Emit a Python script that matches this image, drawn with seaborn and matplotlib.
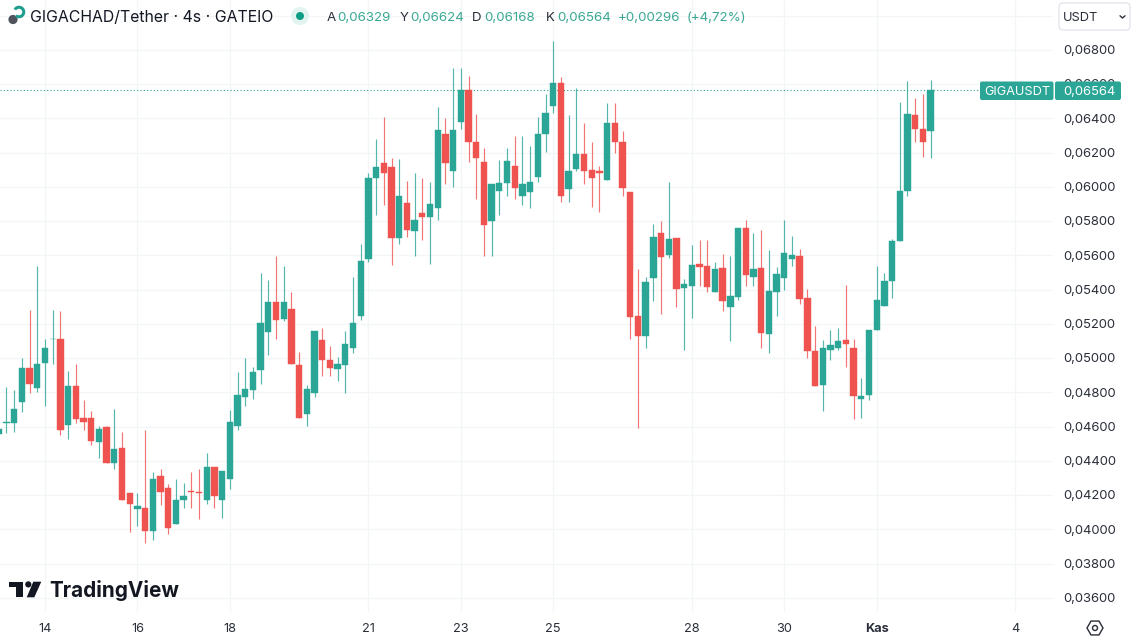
import numpy as np
import pandas as pd
import matplotlib
matplotlib.use('Agg')
import matplotlib.pyplot as plt
from matplotlib.patches import Circle, FancyBboxPatch, Polygon, RegularPolygon, Arc
import seaborn as sns

# 4h candles, prices in ticks of 0.00001 USDT
first_candle = -6
opens = [4558, 4619, 4624, 4745, 4943, 4826, 4972, 5112, 5111, 4609, 4840, 4651, 4653, 4513, 4600, 4387, 4474, 4212, 4122, 4126,
         3991, 4313, 4244, 4034, 4172, 4225, 4219, 4172, 4367, 4172, 4293, 4606, 4776, 4815, 4933, 5155, 5327, 5228, 5288, 4959,
         4676, 4799, 5105, 4990, 4937, 4962, 5060, 5249, 5581, 6051, 6142, 6115, 5701, 5905, 5745, 5846, 5825, 5876, 6310, 6092,
         6378, 6565, 6261, 6144, 5800, 5977, 6022, 6121, 5948, 5971, 6058, 6308, 6475, 6606, 5987, 6105, 6191, 6098, 6093, 6043,
         6376, 6263, 5973, 5245, 5130, 5467, 5733, 5603, 5702, 5412, 5422, 5550, 5537, 5389, 5525, 5299, 5356, 5762, 5476, 5525,
         5143, 5389, 5470, 5580, 5599, 5350, 5041, 4844, 5050, 5058, 5105, 5062, 4760, 4786, 5165, 5303, 5453, 5682, 5975, 6422,
         6337, 6329]
highs = [4610, 4832, 4815, 5000, 5282, 5541, 5111, 5282, 5276, 4924, 4967, 4756, 4692, 4605, 4605, 4702, 4570, 4215, 4212, 4579,
         4338, 4353, 4264, 4293, 4270, 4334, 4355, 4445, 4367, 4340, 4698, 4918, 5000, 4949, 5496, 5457, 5597, 5541, 5387, 5035,
         4846, 5157, 5175, 5073, 5006, 5157, 5473, 5667, 6080, 6279, 6407, 6168, 6162, 6037, 6080, 6053, 6029, 6465, 6401, 6695,
         6693, 6648, 6425, 6226, 6016, 6158, 6230, 6298, 6298, 6241, 6407, 6545, 6853, 6644, 6420, 6580, 6376, 6261, 6123, 6491,
         6491, 6327, 5973, 5521, 5476, 5782, 5803, 6031, 5702, 5461, 5661, 5692, 5689, 5560, 5609, 5597, 5759, 5807, 5731, 5749,
         5634, 5533, 5807, 5712, 5636, 5406, 5187, 5107, 5167, 5175, 5428, 5111, 4883, 5167, 5541, 5496, 5696, 6495, 6621, 6521,
         6543, 6624]
lows = [4546, 4564, 4570, 4685, 4799, 4805, 4721, 4968, 4552, 4527, 4624, 4583, 4494, 4419, 4387, 4352, 4172, 3986, 4021, 3923,
        3939, 4145, 3976, 4034, 4126, 4127, 4063, 4151, 4127, 4066, 4235, 4583, 4721, 4762, 4850, 5019, 5114, 5219, 4965, 4651,
        4606, 4776, 4896, 4896, 4867, 4799, 5031, 5223, 5562, 5835, 5893, 5543, 5667, 5710, 5597, 5691, 5552, 5809, 6018, 6000,
        6339, 6144, 5928, 5597, 5597, 5839, 5949, 5928, 5897, 5879, 6029, 6203, 6430, 5914, 5914, 6095, 6018, 5882, 5856, 6043,
        6200, 5949, 5114, 4595, 5060, 5333, 5257, 5584, 5299, 5050, 5237, 5422, 5389, 5389, 5278, 5099, 5342, 5424, 5422, 5062,
        5031, 5247, 5400, 5541, 5319, 5000, 4840, 4692, 4992, 5047, 4951, 4645, 4653, 4758, 5165, 5303, 5354, 5682, 5948, 6263,
        6173, 6168]
closes = [4587, 4625, 4704, 4941, 4850, 4965, 5060, 5115, 4581, 4840, 4645, 4628, 4517, 4585, 4387, 4472, 4172, 4147, 4139, 3991,
          4293, 4219, 4009, 4171, 4198, 4219, 4215, 4367, 4196, 4340, 4626, 4787, 4821, 4918, 5204, 5327, 5222, 5327, 4965, 4651,
          4821, 5157, 4988, 4941, 4965, 5085, 5208, 5566, 6053, 6117, 6080, 5701, 5949, 5751, 5807, 5825, 5901, 6335, 6140, 6335,
          6565, 6261, 6168, 5780, 6016, 6022, 6154, 5994, 6016, 6027, 6310, 6434, 6606, 5948, 6095, 6191, 6093, 6054, 6084, 6376,
          6261, 5996, 5243, 5130, 5447, 5708, 5593, 5696, 5404, 5432, 5546, 5535, 5416, 5521, 5336, 5365, 5759, 5488, 5521, 5146,
          5393, 5494, 5613, 5605, 5348, 5041, 4840, 5058, 5079, 5099, 5082, 4781, 4780, 5167, 5340, 5453, 5685, 5977, 6428, 6337,
          6263, 6564]

# candle number of each date label
date_ticks = [0, 12, 24, 42, 54, 66, 84, 96, 108, 126]
date_labels = ["14", "16", "18", "21", "23", "25", "28", "30", "Kas", "4"]
price_ticks = [0.036, 0.038, 0.040, 0.042, 0.044, 0.046, 0.048, 0.050, 0.052,
               0.054, 0.056, 0.058, 0.060, 0.062, 0.064, 0.066, 0.068]
grid_levels = price_ticks + [0.070]
last_price = 0.06564

GREEN = "#2aa596"
RED = "#ef5350"
GRID = "#f4f5f7"
TEXT = "#2a2e39"

sns.set_theme(style="white")
plt.rcParams['font.family'] = ['Inter', 'DejaVu Sans']

df = pd.DataFrame({"open": opens, "high": highs, "low": lows, "close": closes}) * 0.00001
df["candle"] = np.arange(first_candle, first_candle + len(df))
df["up"] = df["close"] >= df["open"]
df["body_low"] = df[["open", "close"]].min(axis=1)
df["body"] = (df["open"] - df["close"]).abs()

fig = plt.figure(figsize=(11.32, 6.4), dpi=100)
ax = fig.add_axes([0, 28 / 640, 1053 / 1132, 612 / 640])

ax.hlines(grid_levels, -6, 131, color=GRID, lw=1, zorder=0)
ax.vlines(date_ticks, 0.03, 0.08, color=GRID, lw=1, zorder=0)

for is_up, color in [(True, GREEN), (False, RED)]:
    part = df[df["up"] == is_up]
    ax.vlines(part["candle"], part["low"], part["high"], color=color, lw=0.85, alpha=0.8, zorder=2)
    sns.barplot(data=part, x="candle", y="body", bottom=part["body_low"].values, native_scale=True,
                color=color, saturation=1, width=0.82, errorbar=None, linewidth=0.3, edgecolor=color,
                zorder=3, ax=ax)

ax.axhline(last_price, color=GREEN, lw=0.8, ls=(0, (1, 2)), zorder=1)

ax.set_xlim(-5.844, 130.9)
ax.set_ylim(0.03518, 0.07092)
ax.set_xlabel("")
ax.set_ylabel("")
ax.set_xticks([])
ax.set_yticks([])
sns.despine(ax=ax, left=True, bottom=True)
ax.patch.set_alpha(0)

# overlay in picture pixels for labels and the chart furniture
ui = fig.add_axes([0, 0, 1, 1])
ui.set_xlim(0, 1132)
ui.set_ylim(640, 0)
ui.axis("off")
ui.patch.set_alpha(0)


def price_y(price):
    return 50 + (0.068 - price) / 0.032 * 548


for price in price_ticks:
    ui.text(1089.5, price_y(price) + 1.2, f"{price:.5f}".replace(".", ","), ha="center", va="center",
            fontsize=9.4, color=TEXT)

for pos, label in zip(date_ticks, date_labels):
    ui.text(45 + 7.7 * pos, 629.3, label, ha="center", va="center", fontsize=9.2, color=TEXT,
            fontweight="bold" if label == "Kas" else "normal")

# last price badge
ui.add_patch(FancyBboxPatch((980, 81.5), 73.5, 18.5, boxstyle="round,pad=0,rounding_size=2", fc=GREEN, ec="none", zorder=5))
ui.add_patch(FancyBboxPatch((1055, 81.5), 66, 18.5, boxstyle="round,pad=0,rounding_size=2", fc=GREEN, ec="none", zorder=5))
ui.text(1017, 91.6, "GIGAUSDT", ha="center", va="center", fontsize=9.2, color="white", zorder=6)
ui.text(1089, 91.6, "0,06564", ha="center", va="center", fontsize=9.4, color="white", zorder=6)

# header
ui.add_patch(Circle((13, 19.5), 4.6, fc="#50535e", ec="none"))
ui.add_patch(Arc((19, 12), 9.5, 9.5, theta1=-150, theta2=130, ec="#1f9e90", lw=2.2))
ui.text(30, 18, "GIGACHAD/Tether · 4s · GATEIO", ha="left", va="center", fontsize=11.4, color="#131722")
ui.add_patch(Circle((300, 16), 9, fc="#e3f3f0", ec="none"))
ui.add_patch(Circle((300, 16), 4, fc="#0f9d86", ec="none"))
for x, letter, x_val, value in [(327, "A", 337, "0,06329"), (400, "Y", 410, "0,06624"),
                                (472, "D", 484, "0,06168"), (546, "K", 557, "0,06564")]:
    ui.text(x, 17.6, letter, ha="left", va="center", fontsize=9.6, color=TEXT)
    ui.text(x_val, 17.6, value, ha="left", va="center", fontsize=9.6, color="#3aa893")
ui.text(618, 17.6, "+0,00296", ha="left", va="center", fontsize=9.6, color="#3aa893")
ui.text(687, 17.6, "(+4,72%)", ha="left", va="center", fontsize=9.6, color="#3aa893")

# currency selector
ui.add_patch(FancyBboxPatch((1059, 3), 71, 27, boxstyle="round,pad=0,rounding_size=4", fc="white", ec="#e0e3eb", lw=0.9, zorder=3))
ui.text(1063, 18.2, "USDT", ha="left", va="center", fontsize=9.2, color=TEXT, zorder=4)
ui.plot([1120, 1122.5, 1125], [15.8, 18, 15.8], color=TEXT, lw=1, zorder=4)

# TradingView logo
LOGO = "#131722"
ui.add_patch(Polygon([(9.3, 581.7), (23.3, 581.7), (23.3, 597.3), (15.7, 597.3), (15.7, 587.3), (9.3, 587.3)], fc=LOGO, ec="none"))
ui.add_patch(Circle((28.3, 584.4), 3.1, fc=LOGO, ec="none"))
ui.add_patch(Polygon([(33.3, 581.7), (41.3, 581.7), (34.3, 597.3), (26.7, 597.3)], fc=LOGO, ec="none"))
ui.text(49.5, 590.8, "TradingView", ha="left", va="center", fontsize=14.9, fontweight="bold", color=LOGO)

# settings hexagon
ui.add_patch(RegularPolygon((1095, 628), 6, radius=8, orientation=np.pi / 6, fc="none", ec=TEXT, lw=1))
ui.add_patch(Circle((1095, 628), 2.5, fc="none", ec=TEXT, lw=1))

fig.savefig("out.png", dpi=100)
plt.close(fig)
